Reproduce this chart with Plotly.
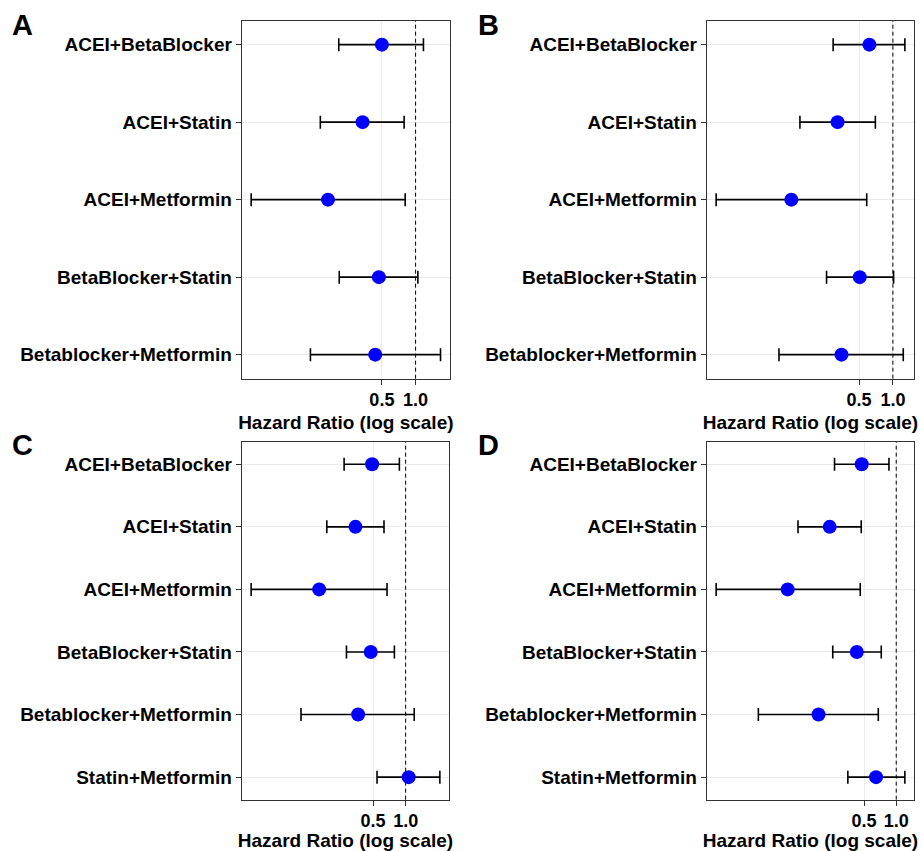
import math
import plotly.graph_objects as go

# ---------------- data ----------------
labels5 = ["ACEI+BetaBlocker", "ACEI+Statin", "ACEI+Metformin",
           "BetaBlocker+Statin", "Betablocker+Metformin"]
labels6 = labels5 + ["Statin+Metformin"]

A_hr = [0.50, 0.336, 0.165, 0.47, 0.436]
A_lo = [0.206, 0.141, 0.034, 0.208, 0.115]
A_hi = [1.175, 0.79, 0.807, 1.048, 1.67]

B_hr = [0.618, 0.322, 0.125, 0.507, 0.349]
B_lo = [0.294, 0.149, 0.0268, 0.257, 0.097]
B_hi = [1.277, 0.698, 0.585, 1.014, 1.236]

C_hr = [0.49, 0.344, 0.159, 0.476, 0.364, 1.066]
C_lo = [0.27, 0.187, 0.0374, 0.284, 0.108, 0.544]
C_hi = [0.875, 0.631, 0.673, 0.787, 1.20, 2.07]

D_hr = [0.475, 0.238, 0.096, 0.427, 0.187, 0.647]
D_lo = [0.264, 0.12, 0.0205, 0.254, 0.051, 0.352]
D_hi = [0.855, 0.47, 0.46, 0.724, 0.679, 1.205]

x_ticks = [0.5, 1.0]
x_ticktext = ["0.5", "1.0"]
panel_letters = ["A", "B", "C", "D"]
x_title = "Hazard Ratio (log scale)"

panels = [
    (labels5, A_hr, A_lo, A_hi),
    (labels5, B_hr, B_lo, B_hi),
    (labels6, C_hr, C_lo, C_hi),
    (labels6, D_hr, D_lo, D_hi),
]

# ---------------- layout geometry ----------------
W, H = 921, 851
FONT = "Liberation Sans, Arial, Helvetica, sans-serif"
xdoms = [(241.7, 450.0), (706.7, 914.3), (241.7, 449.3), (706.7, 914.3)]
ydoms = [(20.7, 380.0), (20.7, 380.0), (443.3, 802.5), (443.3, 802.5)]
ypad = [0.31, 0.31, 0.36, 0.36]
letter_pos = [(10, 7), (476, 7), (10, 429), (476, 429)]

fig = go.Figure()
layout = dict(
    width=W, height=H,
    margin=dict(l=0, r=0, t=0, b=0),
    paper_bgcolor="white", plot_bgcolor="white",
    showlegend=False,
    font=dict(family=FONT, color="black", size=19),
    shapes=[], annotations=[],
)

for i, (labs, hr, lo, hi) in enumerate(panels):
    n = len(labs)
    ax = "" if i == 0 else str(i + 1)
    xa, ya = "x" + ax, "y" + ax
    rows = list(range(1, n + 1))
    fig.add_trace(go.Scatter(
        x=hr, y=rows, xaxis=xa, yaxis=ya, mode="markers",
        marker=dict(color="#0000FF", size=14, line=dict(width=0)),
        error_x=dict(type="data", symmetric=False,
                     array=[h - m for h, m in zip(hi, hr)],
                     arrayminus=[m - l for m, l in zip(hr, lo)],
                     color="black", thickness=1.6, width=6.5),
        hoverinfo="skip",
    ))
    # ggplot-like 5% expansion of the log range
    lmin = math.log10(min(lo))
    lmax = math.log10(max(hi))
    span = lmax - lmin
    xr = [lmin - 0.05 * span, lmax + 0.05 * span]

    x0, x1 = xdoms[i]
    y0, y1 = ydoms[i]
    layout["xaxis" + ax] = dict(
        type="log", range=xr, domain=[x0 / W, x1 / W], anchor=ya,
        tickvals=x_ticks, ticktext=x_ticktext,
        showgrid=True, gridcolor="#EBEBEB", gridwidth=1.1,
        showline=True, linecolor="#333333", linewidth=1.1, mirror=True,
        ticks="outside", ticklen=5, tickcolor="#333333", tickwidth=1.1,
        tickfont=dict(family=FONT, size=18, color="black", weight="bold"),
        title=dict(text="<b>" + x_title + "</b>", standoff=6,
                   font=dict(family=FONT, size=19, color="black")),
        zeroline=False, fixedrange=True,
    )
    layout["yaxis" + ax] = dict(
        range=[n + ypad[i], 1 - ypad[i]], domain=[1 - y1 / H, 1 - y0 / H],
        anchor=xa, tickvals=rows, ticktext=labs,
        showgrid=True, gridcolor="#EBEBEB", gridwidth=1.1,
        showline=True, linecolor="#333333", linewidth=1.1, mirror=True,
        ticks="outside", ticklen=5, tickcolor="#333333", tickwidth=1.1,
        tickfont=dict(family=FONT, size=19, color="black", weight="bold"),
        zeroline=False, fixedrange=True,
    )
    layout["shapes"].append(dict(
        type="line", xref=xa, yref=ya + " domain", x0=1.0, x1=1.0, y0=0, y1=1,
        line=dict(color="black", width=1, dash="4px,3px"), layer="above",
    ))
    lx, ly = letter_pos[i]
    layout["annotations"].append(dict(
        text="<b>" + panel_letters[i] + "</b>", xref="paper", yref="paper",
        x=lx / W, y=1 - ly / H, xanchor="left", yanchor="top", showarrow=False,
        font=dict(family=FONT, size=29, color="black"),
    ))

fig.update_layout(**layout)
fig.write_html("out.html")
